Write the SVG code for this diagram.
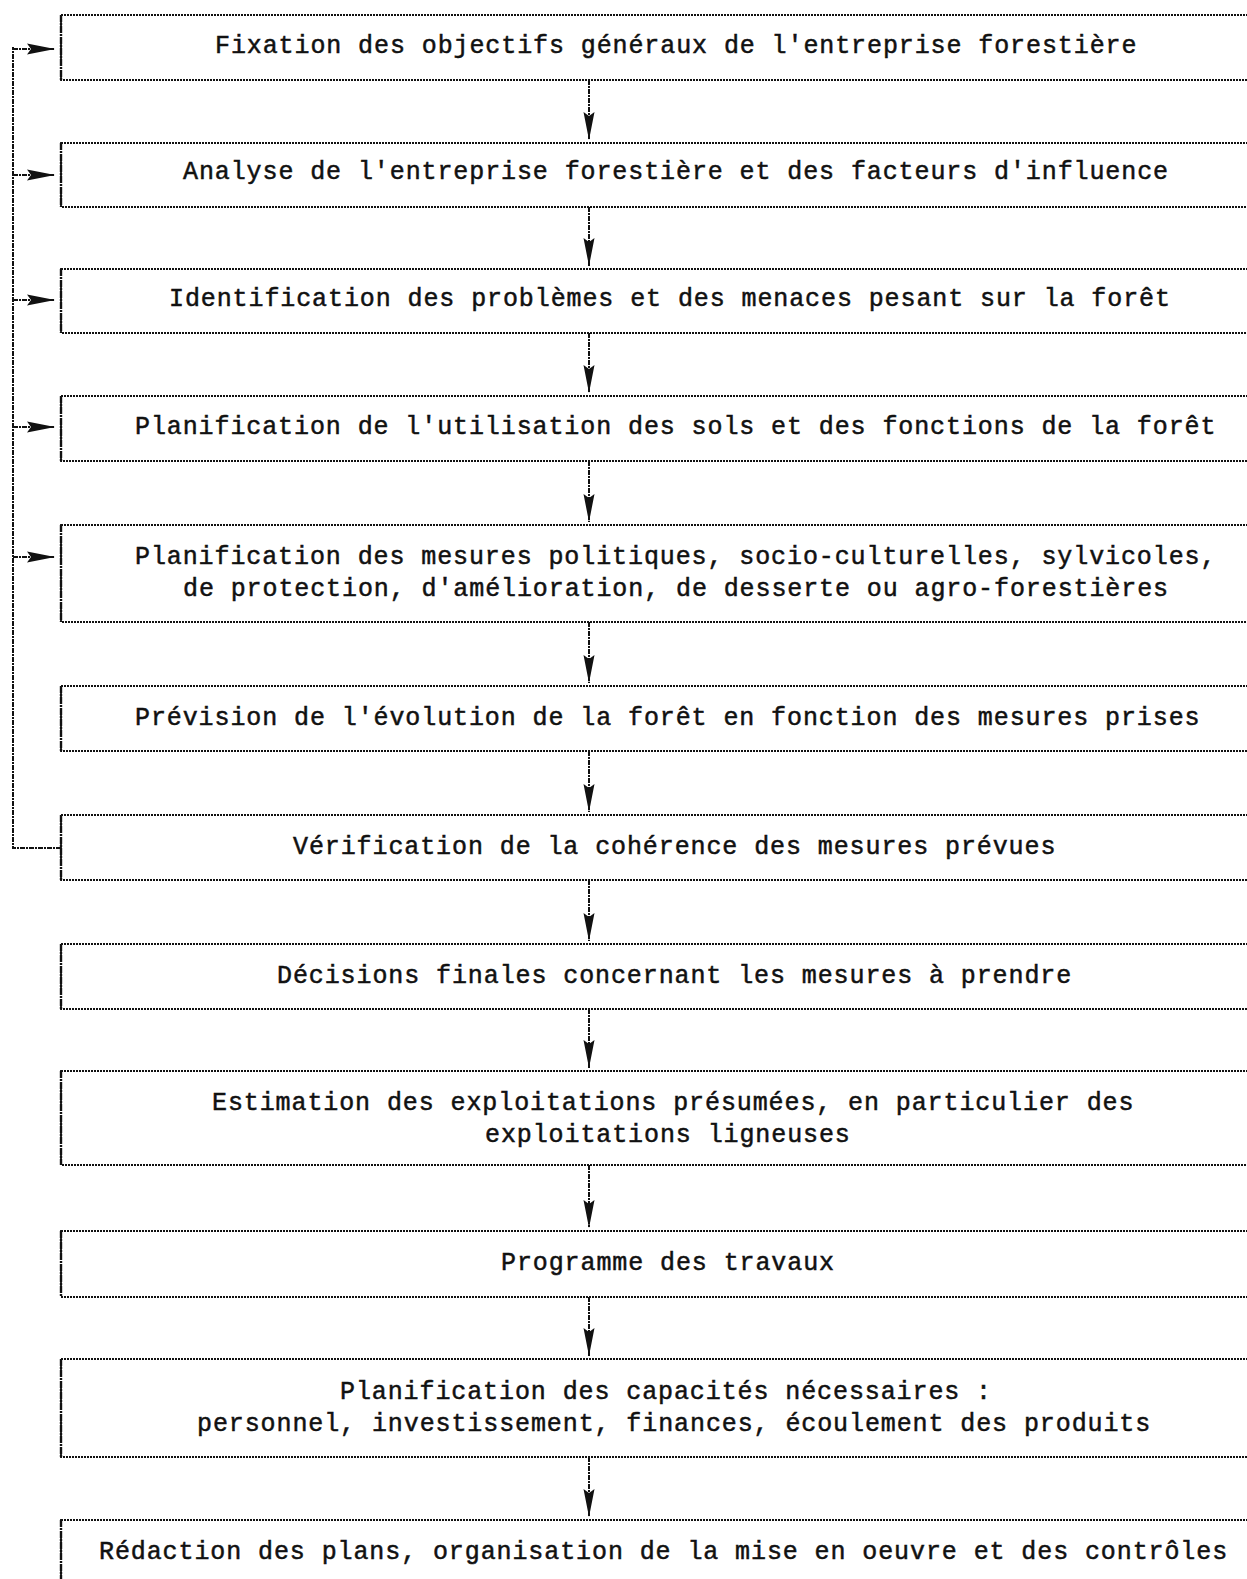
<svg xmlns="http://www.w3.org/2000/svg" width="1247" height="1579" viewBox="0 0 1247 1579">
<style>
.box{fill:none;stroke:#111;stroke-width:1.8;stroke-dasharray:2 1}
.edge{fill:none;stroke:#111;stroke-width:2.4;stroke-dasharray:7 1 2 1}
.t{font-family:"Liberation Mono","DejaVu Sans Mono",monospace;font-size:25px;letter-spacing:0.9px;fill:#111;stroke:#111;stroke-width:0.5}
.c{fill:none;stroke:#111;stroke-width:2;stroke-dasharray:5 1 2 1}
</style>
<defs>
<marker id="ah" viewBox="0 0 28 12" refX="28" refY="6" markerWidth="28" markerHeight="12" markerUnits="userSpaceOnUse" orient="auto">
<path d="M0,0.5 L28,6 L0,11.5 L4,6 Z" fill="#111"/>
</marker>
</defs>
<rect width="1247" height="1579" fill="#fff"/>
<g id="n1"><rect class="box" x="61" y="15" width="1300" height="65"/><line class="edge" x1="61" y1="15" x2="61" y2="80"/><text class="t" x="215" y="53">Fixation des objectifs généraux de l'entreprise forestière</text></g>
<g id="n2"><rect class="box" x="61" y="143" width="1300" height="64"/><line class="edge" x1="61" y1="143" x2="61" y2="207"/><text class="t" x="183" y="179">Analyse de l'entreprise forestière et des facteurs d'influence</text></g>
<g id="n3"><rect class="box" x="61" y="269" width="1300" height="64"/><line class="edge" x1="61" y1="269" x2="61" y2="333"/><text class="t" x="169" y="306">Identification des problèmes et des menaces pesant sur la forêt</text></g>
<g id="n4"><rect class="box" x="61" y="396" width="1300" height="65"/><line class="edge" x1="61" y1="396" x2="61" y2="461"/><text class="t" x="135" y="434">Planification de l'utilisation des sols et des fonctions de la forêt</text></g>
<g id="n5"><rect class="box" x="61" y="525" width="1300" height="97"/><line class="edge" x1="61" y1="525" x2="61" y2="622"/><text class="t" x="135" y="564">Planification des mesures politiques, socio-culturelles, sylvicoles,</text><text class="t" x="183" y="596">de protection, d'amélioration, de desserte ou agro-forestières</text></g>
<g id="n6"><rect class="box" x="61" y="686" width="1300" height="65"/><line class="edge" x1="61" y1="686" x2="61" y2="751"/><text class="t" x="135" y="725">Prévision de l'évolution de la forêt en fonction des mesures prises</text></g>
<g id="n7"><rect class="box" x="61" y="815" width="1300" height="65"/><line class="edge" x1="61" y1="815" x2="61" y2="880"/><text class="t" x="293" y="854">Vérification de la cohérence des mesures prévues</text></g>
<g id="n8"><rect class="box" x="61" y="944" width="1300" height="65"/><line class="edge" x1="61" y1="944" x2="61" y2="1009"/><text class="t" x="277" y="983">Décisions finales concernant les mesures à prendre</text></g>
<g id="n9"><rect class="box" x="61" y="1071" width="1300" height="94"/><line class="edge" x1="61" y1="1071" x2="61" y2="1165"/><text class="t" x="212" y="1110">Estimation des exploitations présumées, en particulier des</text><text class="t" x="485" y="1142">exploitations ligneuses</text></g>
<g id="n10"><rect class="box" x="61" y="1231" width="1300" height="66"/><line class="edge" x1="61" y1="1231" x2="61" y2="1297"/><text class="t" x="501" y="1270">Programme des travaux</text></g>
<g id="n11"><rect class="box" x="61" y="1359" width="1300" height="98"/><line class="edge" x1="61" y1="1359" x2="61" y2="1457"/><text class="t" x="340" y="1399">Planification des capacités nécessaires :</text><text class="t" x="197" y="1431">personnel, investissement, finances, écoulement des produits</text></g>
<g id="n12"><rect class="box" x="61" y="1520" width="1300" height="100"/><line class="edge" x1="61" y1="1520" x2="61" y2="1620"/><text class="t" x="99" y="1559">Rédaction des plans, organisation de la mise en oeuvre et des contrôles</text></g>
<g id="connectors">
<line class="c" x1="589" y1="80" x2="589" y2="140" marker-end="url(#ah)"/>
<line class="c" x1="589" y1="207" x2="589" y2="266" marker-end="url(#ah)"/>
<line class="c" x1="589" y1="333" x2="589" y2="393" marker-end="url(#ah)"/>
<line class="c" x1="589" y1="461" x2="589" y2="522" marker-end="url(#ah)"/>
<line class="c" x1="589" y1="622" x2="589" y2="683" marker-end="url(#ah)"/>
<line class="c" x1="589" y1="751" x2="589" y2="812" marker-end="url(#ah)"/>
<line class="c" x1="589" y1="880" x2="589" y2="941" marker-end="url(#ah)"/>
<line class="c" x1="589" y1="1009" x2="589" y2="1068" marker-end="url(#ah)"/>
<line class="c" x1="589" y1="1165" x2="589" y2="1228" marker-end="url(#ah)"/>
<line class="c" x1="589" y1="1297" x2="589" y2="1356" marker-end="url(#ah)"/>
<line class="c" x1="589" y1="1457" x2="589" y2="1517" marker-end="url(#ah)"/>
<path class="c" d="M61,848 L13,848 L13,47" stroke-width="3"/>
<line class="c" x1="13" y1="49" x2="55" y2="49" marker-end="url(#ah)"/>
<line class="c" x1="13" y1="175" x2="55" y2="175" marker-end="url(#ah)"/>
<line class="c" x1="13" y1="300" x2="55" y2="300" marker-end="url(#ah)"/>
<line class="c" x1="13" y1="427" x2="55" y2="427" marker-end="url(#ah)"/>
<line class="c" x1="13" y1="557" x2="55" y2="557" marker-end="url(#ah)"/>
</g>
</svg>
